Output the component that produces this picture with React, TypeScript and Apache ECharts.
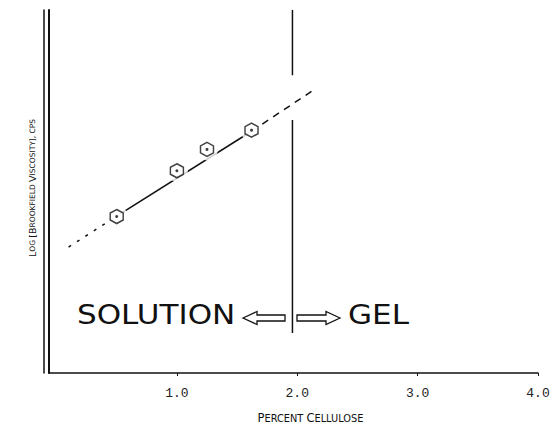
import React, { useEffect, useRef } from "react";
import * as echarts from "echarts";

// Measured points: percent cellulose vs log viscosity (arbitrary units on a 0-100 scale)
const cellulose = [0.5, 1.0, 1.25, 1.62];
const logViscosity = [43.1, 55.7, 61.6, 66.9];

// Fitted straight line, split into its extrapolated (dashed) and measured (solid) parts
const fitLowerX = [0.1, 0.5];
const fitLowerY = [34.7, 43.2];
const fitSolidX = [0.5, 1.62];
const fitSolidY = [43.2, 66.6];
const fitUpperX = [1.62, 2.16];
const fitUpperY = [66.6, 78.5];

// Solution / gel boundary (drawn in two pieces, broken where the fit line passes)
const boundaryTopX = [1.96, 1.96];
const boundaryTopY = [82, 100];
const boundaryBottomX = [1.96, 1.96];
const boundaryBottomY = [11, 69.7];

const xTicks = [1, 2, 3, 4];
const xTickLabels = ["1.0", "2.0", "3.0", "4.0"];

const zip = (xs: number[], ys: number[]) => xs.map((x, i) => [x, ys[i]]);

const HEX = "path://M0,-10 L8.66,-5 L8.66,5 L0,10 L-8.66,5 L-8.66,-5 Z";

export default function App() {
  const ref = useRef<HTMLDivElement>(null);
  useEffect(() => {
    if (!ref.current) return;
    const chart = echarts.init(ref.current, null, { renderer: "svg" });
    const ink = "#111";
    const small = { fontFamily: "DejaVu Sans", fontSize: 7.5, fill: ink, color: ink };
    const big = { fontFamily: "DejaVu Sans", fontSize: 9.5, fill: ink, color: ink };
    chart.setOption({
      animation: false,
      backgroundColor: "#fff",
      grid: { left: 49, right: 17, top: 10, bottom: 67 },
      xAxis: {
        type: "value",
        min: -0.0625,
        max: 4,
        splitLine: { show: false },
        axisLine: { lineStyle: { color: ink, width: 1.5 } },
        axisTick: { length: 3, lineStyle: { color: ink }, customValues: xTicks },
        axisLabel: {
          margin: 14,
          fontFamily: "Liberation Mono",
          fontSize: 13,
          color: "#222",
          customValues: xTicks,
          formatter: (v: number) => xTickLabels[xTicks.indexOf(Math.round(v))] ?? "",
        },
        name: "{b|P}{s|ERCENT }{b|C}{s|ELLULOSE}",
        nameLocation: "middle",
        nameGap: 39,
        nameTextStyle: {
          padding: [0, 0, 0, 34],
          rich: {
            b: { fontFamily: "DejaVu Sans", fontSize: 11.5, color: ink },
            s: { fontFamily: "DejaVu Sans", fontSize: 9.8, color: ink },
          },
        },
      },
      yAxis: [
        {
          type: "value",
          min: 0,
          max: 100,
          splitLine: { show: false },
          axisTick: { show: false },
          axisLabel: { show: false },
          axisLine: { show: true, onZero: false, lineStyle: { color: ink, width: 2 } },
        },
        {
          type: "value",
          min: 0,
          max: 100,
          offset: 5,
          position: "left",
          splitLine: { show: false },
          axisTick: { show: false },
          axisLabel: { show: false },
          axisLine: { show: true, onZero: false, lineStyle: { color: ink, width: 1.5 } },
        },
      ],
      series: [
        {
          type: "line",
          data: zip(boundaryTopX, boundaryTopY),
          symbol: "none",
          lineStyle: { color: ink, width: 1.5 },
          z: 2,
        },
        {
          type: "line",
          data: zip(boundaryBottomX, boundaryBottomY),
          symbol: "none",
          lineStyle: { color: ink, width: 1.5 },
          z: 2,
        },
        {
          type: "line",
          data: zip(fitLowerX, fitLowerY),
          symbol: "none",
          lineStyle: { color: ink, width: 1.5, type: [3, 7] },
          z: 2,
        },
        {
          type: "line",
          data: zip(fitSolidX, fitSolidY),
          symbol: "none",
          lineStyle: { color: ink, width: 1.5 },
          z: 2,
        },
        {
          type: "line",
          data: zip(fitUpperX, fitUpperY),
          symbol: "none",
          lineStyle: { color: ink, width: 1.5, type: [7, 6] },
          z: 2,
        },
        {
          type: "scatter",
          data: zip(cellulose, logViscosity),
          symbol: "circle",
          symbolSize: 22,
          itemStyle: { color: "#fff" },
          silent: true,
          z: 3,
        },
        {
          type: "scatter",
          data: zip(cellulose, logViscosity),
          symbol: HEX,
          symbolSize: [13, 14],
          itemStyle: { color: "#fff", borderColor: ink, borderWidth: 1.5 },
          z: 4,
        },
        {
          type: "scatter",
          data: zip(cellulose, logViscosity),
          symbol: "circle",
          symbolSize: 3,
          itemStyle: { color: ink },
          z: 5,
        },
      ],
      graphic: [
        {
          type: "text",
          x: 32,
          y: 188,
          rotation: Math.PI / 2,
          style: {
            text: "{b|L}{s|OG }{b|[B}{s|ROOKFIELD }{b|V}{s|ISCOSITY], CPS}",
            rich: { b: big, s: small },
            align: "center",
            verticalAlign: "middle",
          },
        },
        {
          type: "text",
          x: 77,
          y: 315,
          scaleX: 1.15,
          style: {
            text: "SOLUTION",
            fontFamily: "DejaVu Sans",
            fontSize: 27,
            fill: ink,
            align: "left",
            verticalAlign: "middle",
          },
        },
        {
          type: "text",
          x: 348,
          y: 315,
          scaleX: 1.15,
          style: {
            text: "GEL",
            fontFamily: "DejaVu Sans",
            fontSize: 27,
            fill: ink,
            align: "left",
            verticalAlign: "middle",
          },
        },
        {
          type: "polygon",
          shape: {
            points: [
              [243, 318], [257, 311.5], [257, 315], [285, 315],
              [285, 321], [257, 321], [257, 324.5],
            ],
          },
          style: { fill: "#fff", stroke: ink, lineWidth: 1.3 },
        },
        {
          type: "polygon",
          shape: {
            points: [
              [340, 318], [326, 311.5], [326, 315], [297, 315],
              [297, 321], [326, 321], [326, 324.5],
            ],
          },
          style: { fill: "#fff", stroke: ink, lineWidth: 1.3 },
        },
      ],
    });
    return () => chart.dispose();
  }, []);
  return <div ref={ref} style={{ width: 555, height: 440, position: "absolute", left: 0, top: 0 }} />;
}
